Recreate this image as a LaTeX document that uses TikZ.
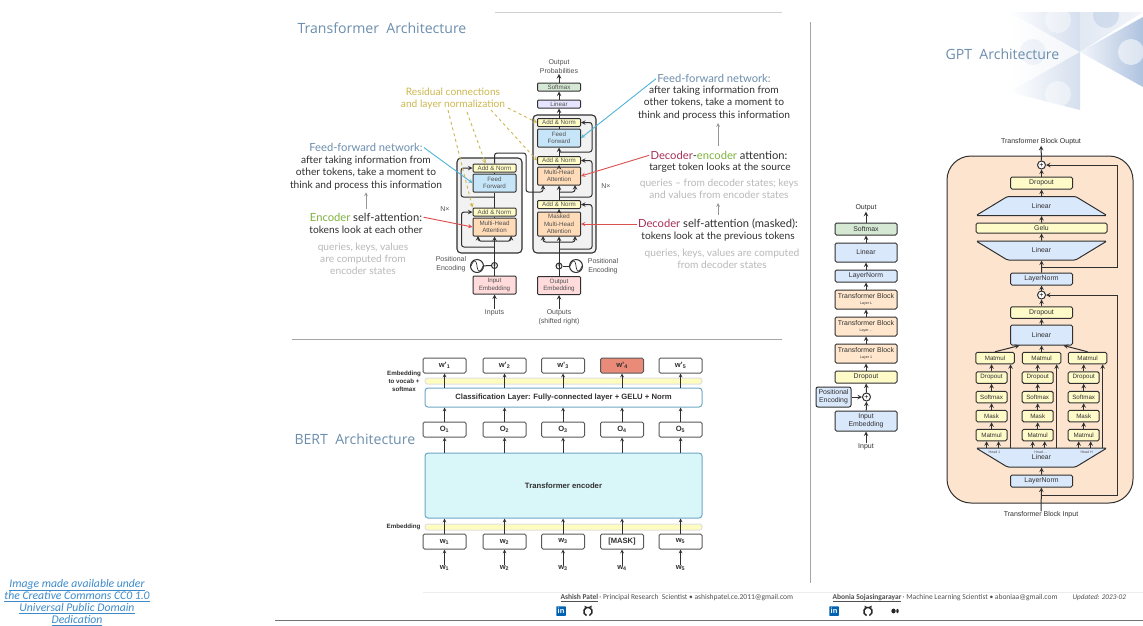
\documentclass[tikz,border=0pt]{standalone}
\usepackage{fontspec}
\setmainfont{Liberation Sans}
\newfontfamily\callfont{Lato}
\newfontfamily\headfont{Open Sans}
\newfontfamily\notefont{Carlito}
\usetikzlibrary{arrows.meta,positioning,shapes.geometric,calc}
\newcommand{\threedots}{.{}.{}.}
\definecolor{tfInk}{HTML}{303030}
\definecolor{tfText}{HTML}{505050}
\definecolor{tfGrey}{HTML}{B9B9B9}
\definecolor{tfHead}{HTML}{6C8EAD}
\definecolor{tfYellow}{HTML}{CDB74F}
\definecolor{tfArrowBlue}{HTML}{4FB4D8}
\definecolor{tfArrowRed}{HTML}{DB4F4F}
\definecolor{tfCrimson}{HTML}{A62F56}
\definecolor{tfGreen}{HTML}{7FB23C}
\definecolor{tfShell}{HTML}{F2F2F2}
\definecolor{tfFeed}{HTML}{C6E5F8}
\definecolor{bertCyan}{HTML}{D9F6F9}
\definecolor{bertEdge}{HTML}{6FA6C6}
\definecolor{bertSalmon}{HTML}{EA8A78}
\definecolor{gptBlue}{HTML}{DAE8FC}
\definecolor{gptYellow}{HTML}{FFFBC8}
\definecolor{gptGreen}{HTML}{D5E8D4}
\definecolor{gptOrange}{HTML}{FFE6CC}
\definecolor{gptPeach}{HTML}{FDE4CE}
\definecolor{noteBlue}{HTML}{3D8BCB}
\definecolor{decoPale}{HTML}{F2F5FA}
\definecolor{decoMid}{HTML}{D5DFEE}
\definecolor{decoDeep}{HTML}{AFC3DF}
\tikzset{
    every picture/.style={x=1pt,y=-1pt,>=stealth,line width=1pt},
    % Transformer boxes
    tfbox/.style={rectangle,draw=tfInk,rounded corners=1pt,minimum width=43pt,inner sep=0pt,align=center,text=tfText,font=\fontsize{6.2}{7.4}\selectfont},
    addnorm/.style={tfbox,fill=yellow!22,minimum height=8pt},
    feedfwd/.style={tfbox,fill=tfFeed,minimum height=18pt},
    multihead/.style={tfbox,fill=orange!28,minimum height=18pt},
    embedbox/.style={tfbox,fill=red!14,minimum height=18pt},
    shell/.style={rectangle,draw=tfInk,fill=tfShell,rounded corners=4pt,inner sep=0pt,line width=1.1pt},
    plusnode/.style={circle,draw=tfInk,fill=white,inner sep=0pt,minimum size=6pt,font=\fontsize{6}{6}\selectfont},
    wave/.style={circle,draw=tfInk,fill=white,inner sep=0pt,minimum size=13pt},
    tflabel/.style={align=center,inner sep=0pt,text=tfText,font=\fontsize{7}{9}\selectfont},
    tfflow/.style={draw=tfInk,rounded corners=2.5pt},
    % Callouts
    calltitle/.style={inner sep=0pt,text=tfInk,font=\callfont\fontsize{11.2}{12}\selectfont},
    callbody/.style={align=center,inner sep=0pt,text=tfInk,font=\callfont\fontsize{10.2}{12.2}\selectfont},
    callgrey/.style={align=center,inner sep=0pt,text=tfGrey,font=\callfont\fontsize{10.2}{12}\selectfont},
    greyarrow/.style={->,tfGrey!80!black,line width=0.7pt,shorten >=2pt,shorten <=3pt},
    bluearrow/.style={->,tfArrowBlue,line width=0.9pt,shorten <=1pt},
    redarrow/.style={->,tfArrowRed,line width=0.9pt,shorten <=1pt},
    resarrow/.style={->,tfYellow,dashed,line width=0.9pt},
    headlabel/.style={inner sep=0pt,text=tfHead,font=\headfont\fontsize{14.1}{16}\selectfont},
    % BERT boxes
    wordbox/.style={rectangle,draw=tfInk!80,rounded corners=1.5pt,fill=white,minimum width=43pt,minimum height=15pt,inner sep=0pt,text=tfInk,font=\bfseries\fontsize{7.6}{8}\selectfont},
    bertbar/.style={rectangle,draw=black!12,rounded corners=2.5pt,fill=yellow!25,minimum width=277pt,minimum height=6pt,inner sep=0pt},
    bertwide/.style={rectangle,draw=bertEdge,rounded corners=3pt,fill=white,minimum width=277pt,inner sep=0pt,text=tfInk,font=\bfseries\fontsize{7.7}{8}\selectfont},
    bertlabel/.style={align=center,inner sep=0pt,text=tfInk,font=\bfseries\fontsize{6.2}{8}\selectfont},
    % GPT boxes
    gptbox/.style={rectangle,draw=tfInk,rounded corners=1.5pt,inner sep=0pt,align=center,minimum width=62pt,text=tfInk,font=\fontsize{6.9}{7.8}\selectfont},
    gptnarrow/.style={gptbox,fill=gptYellow,minimum width=31pt,minimum height=11.5pt,font=\fontsize{6.2}{7}\selectfont},
    gptplus/.style={circle,draw=tfInk,fill=white,inner sep=0pt,minimum size=8pt,font=\fontsize{7}{7}\selectfont},
    gpttrap/.style={trapezium,trapezium stretches=true,trapezium angle=30,draw=tfInk,fill=gptBlue,rounded corners=1.5pt,inner sep=0pt,minimum width=131pt,minimum height=19pt,text=tfInk,font=\fontsize{6.9}{7.8}\selectfont},
    gptflow/.style={->,draw=tfInk},
    gptlabel/.style={inner sep=0pt,text=tfInk,font=\fontsize{7}{8}\selectfont},
    footer/.style={inner sep=0pt,anchor=west,text=tfText,font=\notefont\fontsize{7.5}{8}\selectfont}
}
\begin{document}
\begin{tikzpicture}
    \useasboundingbox (0,0) rectangle (1143,625);
    \fill[white] (0,0) rectangle (1143,625);

    % Decoration behind the GPT title
    \begin{scope}
    \clip (1000,12) rectangle (1143,125);
    \shade[left color=white,right color=decoPale] (1009,12) -- (1080,52) -- (1009,92) -- cycle;
    \shade[left color=white,right color=decoMid] (1009,12) -- (1080,12) -- (1080,52) -- cycle;
    \shade[left color=white,right color=decoMid] (1009,92) -- (1080,52) -- (1080,110) -- cycle;
    \shade[left color=decoMid!70,right color=decoPale] (1080,12) -- (1143,12) -- (1080,52) -- cycle;
    \shade[left color=decoPale,right color=decoDeep] (1080,52) -- (1143,17) -- (1143,87) -- cycle;
    \fill[white,opacity=.4] (1058,20) circle (13);
    \fill[decoDeep,opacity=.15] (1033,52) circle (13);
    \fill[white,opacity=.45] (1058,94) circle (13);
    \fill[decoDeep,opacity=.4] (1106,15) circle (13);
    \fill[white,opacity=.55] (1131,52) circle (13);
    \end{scope}

    % Frame lines
    \draw[black!18,line width=0.8pt] (495,12) -- (782,12);
    \draw[black!35,line width=0.8pt] (292,339) -- (782,339);
    \draw[black!35,line width=0.8pt] (810,22) -- (810,583);
    \draw[black!7,line width=0.8pt] (423,592) -- (1143,592);
    \draw[black!55,line width=0.8pt] (275,620) -- (1143,620);

    % Panel titles
    \node[headlabel,anchor=west] (tftitle) at (297,28) {Transformer\ \ Architecture};
    \node[headlabel,anchor=west] (berttitle) at (294,439.5) {BERT\ \ Architecture};
    \node[headlabel,anchor=west] (gpttitle) at (945,54) {GPT\ \ Architecture};

    % Encoder
    \node[shell,minimum width=65pt,minimum height=95pt] (encshell) at (489.5,205.5) {};
    \node[addnorm] (encnormb) at (494.5,168) {Add \& Norm};
    \node[feedfwd] (encff) at (494.5,183) {Feed\\Forward};
    \node[addnorm] (encnorma) at (494.5,212) {Add \& Norm};
    \node[multihead] (encmha) at (494.5,227) {Multi-Head\\Attention};
    \node[plusnode] (encplus) at (494.5,265.5) {+};
    \node[wave] (encwave) at (477,266) {};
    \node[embedbox] (enceb) at (494.5,285) {Input\\Embedding};
    \node[tflabel] (inputs) at (494.5,313) {Inputs};
    \node[tflabel] (encpos) at (451,264.5) {Positional\\Encoding};
    \node[tflabel] (encn) at (445,209) {N×};

    % Decoder
    \node[shell,minimum width=63pt,minimum height=138pt] (decshell) at (564.5,184) {};
    \node[addnorm] (decnormc) at (559,122.5) {Add \& Norm};
    \node[feedfwd] (decff) at (559,138) {Feed\\Forward};
    \node[addnorm] (decnormb) at (559,160.5) {Add \& Norm};
    \node[multihead] (decmha) at (559,176) {Multi-Head\\Attention};
    \node[addnorm] (decnorma) at (559,204.5) {Add \& Norm};
    \node[multihead,minimum height=24pt] (decmask) at (559,224) {Masked\\Multi-Head\\Attention};
    \node[plusnode] (decplus) at (559,266) {+};
    \node[wave] (decwave) at (576,266) {};
    \node[embedbox] (deceb) at (559,285.5) {Output\\Embedding};
    \node[tflabel] (outputs) at (559,317.5) {Outputs\\(shifted right)};
    \node[tflabel] (decpos) at (603,266.5) {Positional\\Encoding};
    \node[tflabel] (decn) at (606,186) {N×};
    \node[tfbox,fill=gptGreen,minimum height=8pt] (decsoft) at (559,87) {Softmax};
    \node[tfbox,fill=blue!10,minimum height=8pt] (declin) at (559,104) {Linear};
    \node[tflabel] (probs) at (559,66.5) {Output\\Probabilities};

    % Sine waves of the positional encoding
    \draw[tfInk,line width=0.7pt] (471,266) .. controls (474,259) and (476,259) .. (477,266) .. controls (478,273) and (480,273) .. (483,266);
    \draw[tfInk,line width=0.7pt] (570,266) .. controls (573,259) and (575,259) .. (576,266) .. controls (577,273) and (579,273) .. (582,266);

    % Transformer flow
    \draw[->,draw=tfInk] (inputs) -- (enceb);
    \draw[->,draw=tfInk] (enceb) -- (encmha);
    \draw[draw=tfInk] (encmha) -- (encnorma);
    \draw[draw=tfInk] (encnorma) -- (encff);
    \draw[draw=tfInk] (encff) -- (encnormb);
    \draw[draw=tfInk] (encwave) -- (encplus);
    \draw[->,tfflow] (494.5,197) -- (461,197) |- (encnormb.west);
    \draw[->,tfflow] (494.5,247) -- (461.5,247) |- (encnorma.west);
    \draw[->,tfflow] (494.5,241) -- (478,241) -- (478,236);
    \draw[->,tfflow] (494.5,241) -- (511,241) -- (511,236);
    \draw[->,tfflow] (encnormb.north) |- (526,153) -- (526,192) -- (543,192) -- (543,185);
    \draw[->,draw=tfInk] (outputs) -- (deceb);
    \draw[->,draw=tfInk] (deceb) -- (decmask);
    \draw[->,draw=tfInk] (decmask) -- (decnorma);
    \draw[->,draw=tfInk] (decnorma) -- (decmha);
    \draw[->,draw=tfInk] (decmha) -- (decnormb);
    \draw[->,draw=tfInk] (decnormb) -- (decff);
    \draw[draw=tfInk] (decff) -- (decnormc);
    \draw[->,draw=tfInk] (decnormc) -- (declin);
    \draw[->,draw=tfInk] (declin) -- (decsoft);
    \draw[->,draw=tfInk] (decsoft) -- (probs);
    \draw[draw=tfInk] (decwave) -- (decplus);
    \draw[->,tfflow] (559,152) -- (592,152) |- (decnormc.east);
    \draw[->,tfflow] (559,197) -- (592,197) |- (decnormb.east);
    \draw[->,tfflow] (559,249) -- (592,249) |- (decnorma.east);
    \draw[->,tfflow] (559,242) -- (543,242) -- (543,236);
    \draw[->,tfflow] (559,242) -- (575,242) -- (575,236);
    \draw[->,tfflow] (559,192) -- (575,192) -- (575,185);

    % Callouts, left
    \node[calltitle,text=tfHead] (ffltitle) at (366,147) {Feed-forward network:};
    \node[callbody] (fflbody) at (366,173) {after taking information from\\other tokens, take a moment to\\think and process this information};
    \node[calltitle] (encltitle) at (366,217) {\textcolor{tfGreen}{Encoder} self-attention:};
    \node[callbody] (enclbody) at (366,230) {tokens look at each other};
    \node[callgrey] (enclgrey) at (363,259) {queries, keys, values\\are computed from\\encoder states};
    \draw[greyarrow] (encltitle.north) -- (fflbody.south);
    \draw[bluearrow] (ffltitle.east) -- (encff.west);
    \draw[redarrow] (encltitle.east) -- (encmha.west);

    % Callouts, right
    \node[calltitle,text=tfHead] (ffrtitle) at (714,78) {Feed-forward network:};
    \node[callbody] (ffrbody) at (714,103) {after taking information from\\other tokens, take a moment to\\think and process this information};
    \node[calltitle] (dectitle) at (719,155) {\textcolor{tfCrimson}{Decoder}-\textcolor{tfGreen}{encoder} attention:};
    \node[callbody] (decbody) at (720,168) {target token looks at the source};
    \node[callgrey] (decgrey) at (719,189) {queries – from decoder states; keys\\and values from encoder states};
    \node[calltitle] (masktitle) at (718,224) {\textcolor{tfCrimson}{Decoder} self-attention (masked):};
    \node[callbody] (maskbody) at (718,237) {tokens look at the previous tokens};
    \node[callgrey] (maskgrey) at (722,258.5) {queries, keys, values are computed\\from decoder states};
    \draw[greyarrow] (718,149) -- (718,121);
    \draw[greyarrow] (718,218) -- (718,201);
    \draw[bluearrow] (ffrtitle.west) -- (decff.east);
    \draw[redarrow] (dectitle.west) -- (decmha.east);
    \draw[redarrow] (masktitle.west) -- (decmask.east);

    % Residual connection label
    \node[align=center,inner sep=0pt,text=tfYellow,font=\callfont\fontsize{10.2}{12}\selectfont] (reslabel) at (453,99) {Residual connections\\and layer normalization};
    \coordinate (resa) at (448,110);
    \coordinate (resb) at (467,112);
    \coordinate (resc) at (491,110);
    \coordinate (resd) at (508,108);
    \draw[resarrow] (resa) -- (encnorma.north west);
    \draw[resarrow] (resb) -- ([xshift=-9pt]encnormb.north);
    \draw[resarrow] (resc) -- (decnormb.west);
    \draw[resarrow] (resd) -- (decnormc.west);

    % BERT
    \node[bertbar] (barup) at (563.5,381) {};
    \node[bertbar] (bardown) at (563.5,527) {};
    \node[bertwide,minimum height=19pt] (classif) at (563.5,397.5) {Classification Layer: Fully-connected layer + GELU + Norm};
    \node[bertwide,fill=bertCyan,minimum height=65pt] (bertenc) at (563.5,485.5) {Transformer encoder};
    \node[bertlabel] (vocab) at (404,381) {Embedding\\to vocab +\\softmax};
    \node[bertlabel,anchor=east] (embedlab) at (421,527) {Embedding};
    \foreach \c/\x/\topfill/\idx/\word in {
        a/444.5/white/1/w\textsubscript{1},
        b/504.5/white/2/w\textsubscript{2},
        c/563/white/3/w\textsubscript{3},
        d/622/bertSalmon/4/[MASK],
        e/680.5/white/5/w\textsubscript{5}} {
        \node[wordbox,fill=\topfill] (wout\c) at (\x,365.5) {w’\textsubscript{\idx}};
        \node[wordbox] (obox\c) at (\x,429.5) {O\textsubscript{\idx}};
        \node[wordbox] (wbox\c) at (\x,541.5) {\word};
        \node[inner sep=0pt,text=tfInk,font=\bfseries\fontsize{7.6}{8}\selectfont] (wlab\c) at (\x,568) {w\textsubscript{\idx}};
        \draw[->,draw=tfInk,line width=0.7pt] (wlab\c) -- (wbox\c);
        \draw[->,draw=tfInk,line width=0.7pt] (wbox\c.north) -- (wbox\c.north |- bertenc.south);
        \draw[->,draw=tfInk,line width=0.7pt] (obox\c.south |- bertenc.north) -- (obox\c.south);
        \draw[->,draw=tfInk,line width=0.7pt] (obox\c.north) -- (obox\c.north |- classif.south);
        \draw[->,draw=tfInk,line width=0.7pt] (wout\c.south |- classif.north) -- (wout\c.south);
    }

    % GPT overview column
    \node[gptlabel] (gptout) at (866,208) {Output};
    \node[gptbox,fill=gptGreen,minimum height=12pt] (gsoft) at (866,229) {Softmax};
    \node[gptbox,fill=gptBlue,minimum height=19pt] (glin) at (866,252.5) {Linear};
    \node[gptbox,fill=gptBlue,minimum height=12pt] (gnorm) at (866,276) {LayerNorm};
    \foreach \n/\y/\lab in {l/299.5/L,m/326.5/\threedots,k/353.5/1} {
        \node[gptbox,fill=gptOrange,minimum height=19pt] (gblock\n) at (866,\y) {Transformer Block\\[-2.4pt]{\fontsize{3.6}{4}\selectfont Layer \lab}};
    }
    \node[gptbox,fill=gptYellow,minimum height=12pt] (gdrop) at (866,377) {Dropout};
    \node[gptplus] (gplus) at (866.5,397) {+};
    \node[gptbox,fill=gptBlue,minimum width=35pt,minimum height=20pt,rounded corners=2pt] (gpos) at (833.5,397) {Positional\\Encoding};
    \node[gptbox,fill=gptBlue,minimum height=20pt] (gemb) at (866,421) {Input\\Embedding};
    \node[gptlabel] (gin) at (866,447) {Input};
    \draw[gptflow] (gin) -- (gemb);
    \draw[gptflow] (gemb) -- (gplus);
    \draw[gptflow] (gpos) -- (gplus);
    \draw[gptflow] (gplus) -- (gdrop);
    \draw[gptflow] (gdrop) -- (gblockk);
    \draw[gptflow] (gblockk) -- (gblockm);
    \draw[gptflow] (gblockm) -- (gblockl);
    \draw[gptflow] (gblockl) -- (gnorm);
    \draw[gptflow] (gnorm) -- (glin);
    \draw[gptflow] (glin) -- (gsoft);
    \draw[gptflow] (gsoft) -- (gptout);

    % GPT transformer block
    \node[rectangle,draw=tfInk,fill=gptPeach,rounded corners=24pt,minimum width=186pt,minimum height=347pt,inner sep=0pt] (blockshell) at (1040,329.5) {};
    \node[gptlabel] (blockout) at (1041,142) {Transformer Block Ouptut};
    \node[gptplus] (plusb) at (1041.5,165) {+};
    \node[gptbox,fill=gptYellow,minimum height=12pt] (dropb) at (1041.5,183) {Dropout};
    \node[gpttrap] (mlptop) at (1041.5,206) {Linear};
    \node[gptbox,fill=gptYellow,minimum width=131pt,minimum height=10pt] (gelu) at (1041.5,228) {Gelu};
    \node[gpttrap,shape border rotate=180] (mlplow) at (1041.5,250.5) {Linear};
    \node[gptbox,fill=gptBlue,minimum height=12pt] (normb) at (1041.5,279) {LayerNorm};
    \node[gptplus] (plusa) at (1041.5,295) {+};
    \node[gptbox,fill=gptYellow,minimum height=11.5pt] (dropa) at (1041.5,312.5) {Dropout};
    \node[gptbox,fill=gptBlue,minimum height=20pt] (attnlin) at (1041.5,335) {Linear};
    \node[gpttrap,shape border rotate=180] (headlin) at (1041.5,457.5) {\raisebox{-1.5pt}{Linear}};
    \node[gptbox,fill=gptBlue,minimum height=12pt] (norma) at (1041.5,481) {LayerNorm};
    \node[gptlabel] (blockin) at (1041,515) {Transformer Block Input};
    % one attention head per column
    \foreach \h/\x/\up/\lab in {p/991.5/995/Head 1,q/1037.7/1041.5/Head \threedots,r/1083.7/1087.5/Head H} {
        \node[gptnarrow] (mmlow\h) at (\x,435) {Matmul};
        \node[gptnarrow] (mask\h) at (\x,416) {Mask};
        \node[gptnarrow] (soft\h) at (\x,397) {Softmax};
        \node[gptnarrow] (drop\h) at (\x,377.5) {Dropout};
        \node[gptnarrow,minimum width=38.5pt] (mmup\h) at (\up,358) {Matmul};
        \node[inner sep=0pt,text=tfText,font=\fontsize{3.6}{4}\selectfont] (headlab\h) at (\x+3,452) {\lab};
        \draw[gptflow] (mmlow\h) -- (mask\h);
        \draw[gptflow] (mask\h) -- (soft\h);
        \draw[gptflow] (soft\h) -- (drop\h);
        \draw[gptflow] (drop\h.north) -- (drop\h.north |- mmup\h.south);
        \coordinate (basea\h) at (\x-5,448);
        \coordinate (baseb\h) at (\x+7,448);
        \coordinate (basec\h) at (\x+19,448);
        \draw[gptflow] (basea\h) -- (basea\h |- mmlow\h.south);
        \draw[gptflow] (baseb\h) -- (baseb\h |- mmlow\h.south);
        \draw[gptflow] (basec\h) -- (basec\h |- mmup\h.south);
    }
    \draw[gptflow] (mmupp.north) -- ([xshift=-22pt]attnlin.south);
    \draw[gptflow] (mmupq.north) -- (attnlin.south);
    \draw[gptflow] (mmupr.north) -- ([xshift=22pt]attnlin.south);
    \draw[gptflow] (blockin) -- (norma);
    \draw[gptflow] (norma) -- (headlin.south);
    \draw[gptflow] (attnlin) -- (dropa);
    \draw[gptflow] (dropa) -- (plusa);
    \draw[gptflow] (plusa) -- (normb);
    \draw[gptflow] (normb) -- (mlplow.south);
    \draw[gptflow] (mlplow.north) -- (gelu);
    \draw[gptflow] (gelu) -- (mlptop.south);
    \draw[gptflow] (mlptop.north) -- (dropb);
    \draw[gptflow] (dropb) -- (plusb);
    \draw[gptflow] (plusb) -- (blockout);
    \draw[gptflow] (1041.5,495) -- (1117,495) |- (plusa.east);
    \draw[gptflow] (1041.5,267) -- (1117,267) |- (plusb.east);

    % Footer, authors
    \node[footer] (authora) at (560,598) {\textbf{\underline{Ashish Patel}}\,· Principal Research\ \ Scientist • ashishpatel.ce.2011@gmail.com};
    \node[footer] (authorb) at (832,598) {\textbf{\underline{Abonia Sojasingarayar}}\,· Machine Learning Scientist • aboniaa@gmail.com};
    \node[footer,font=\notefont\itshape\fontsize{7.2}{8}\selectfont] (updated) at (1072,598) {Updated: 2023-02};
    \foreach \n/\x in {a/561,b/834} {
        \node[rectangle,fill=blue!45!cyan!70!black,rounded corners=0.5pt,minimum size=9.5pt,inner sep=0pt,text=white,font=\bfseries\fontsize{7.5}{8}\selectfont] (linked\n) at (\x,611) {in};
    }
    \foreach \n/\x in {a/588,b/868} {
        \draw[black!85,line width=1.5pt] (\x-1.5,615.5) arc[start angle=110,end angle=430,radius=4.2];
        \fill[black!85] (\x-3.5,607.5) -- (\x-3.5,605.5) -- (\x-1,607) -- (\x+1,607) -- (\x+3.5,605.5) -- (\x+3.5,607.5) -- cycle;
    }
    \fill[black!85] (893.5,611) ellipse (2.2 and 2.4);
    \fill[black!85] (897.5,611) ellipse (1.2 and 2.2);

    % Licence note
    \node[align=center,inner sep=0pt,text=noteBlue,font=\notefont\itshape\fontsize{11.7}{12.2}\selectfont] (licence) at (77,602.5) {\underline{Image made available under}\\\underline{the Creative Commons CC0 1.0}\\\underline{Universal Public Domain}\\\underline{Dedication}};
\end{tikzpicture}
\end{document}
